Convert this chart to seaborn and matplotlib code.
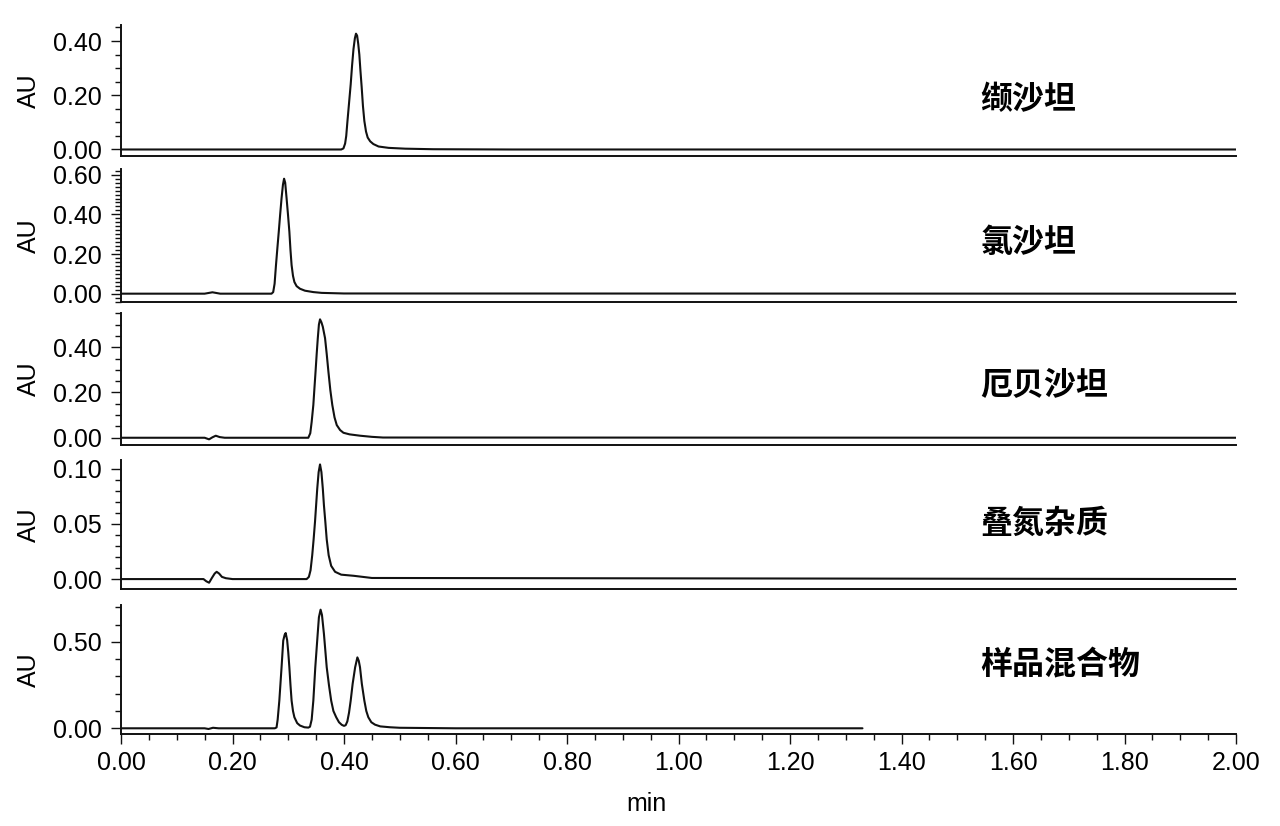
import matplotlib
matplotlib.use("Agg")
import matplotlib.pyplot as plt
from matplotlib.ticker import MultipleLocator, FormatStrFormatter
import seaborn as sns

# retention time (min) / absorbance (AU)
t_valsartan = [0.00, 0.395, 0.399, 0.402, 0.404, 0.406, 0.409, 0.412, 0.4145, 0.417, 0.4195,
               0.4215, 0.4235, 0.4255, 0.4275, 0.4295, 0.4317, 0.434, 0.4365, 0.4395, 0.4425,
               0.447, 0.4527, 0.462, 0.48, 0.51, 0.56, 0.70, 2.00]
a_valsartan = [0.000, 0.000, 0.004, 0.022, 0.05, 0.10, 0.17, 0.24, 0.31, 0.37, 0.41,
               0.427, 0.42, 0.39, 0.35, 0.29, 0.23, 0.16, 0.105, 0.066, 0.044,
               0.030, 0.020, 0.011, 0.006, 0.003, 0.001, 0.0, 0.0]

t_losartan = [0.00, 0.150, 0.158, 0.164, 0.170, 0.178, 0.270, 0.273, 0.2755, 0.278, 0.2805,
              0.283, 0.2855, 0.288, 0.2905, 0.2925, 0.2945, 0.297, 0.2995, 0.302, 0.304,
              0.306, 0.3085, 0.311, 0.315, 0.321, 0.33, 0.345, 0.36, 0.40, 2.00]
a_losartan = [0.000, 0.000, 0.004, 0.007, 0.004, 0.000, 0.000, 0.008, 0.05, 0.144, 0.23,
              0.313, 0.40, 0.482, 0.55, 0.58, 0.56, 0.482, 0.40, 0.313, 0.22,
              0.144, 0.09, 0.059, 0.038, 0.025, 0.015, 0.008, 0.004, 0.001, 0.0]

t_irbesartan = [0.00, 0.150, 0.158, 0.164, 0.170, 0.177, 0.186, 0.336, 0.3395, 0.342, 0.345,
                0.347, 0.349, 0.351, 0.353, 0.355, 0.357, 0.3595, 0.362, 0.366, 0.369,
                0.372, 0.3755, 0.379, 0.383, 0.387, 0.393, 0.399, 0.41, 0.429, 0.45, 0.47, 2.00]
a_irbesartan = [0.000, 0.000, -0.007, 0.002, 0.009, 0.003, 0.000, 0.000, 0.02, 0.07, 0.145,
                0.22, 0.293, 0.37, 0.44, 0.50, 0.523, 0.51, 0.49, 0.44, 0.37,
                0.293, 0.21, 0.145, 0.09, 0.056, 0.034, 0.022, 0.015, 0.009, 0.004, 0.001, 0.0]

t_azido = [0.00, 0.148, 0.153, 0.158, 0.163, 0.168, 0.1716, 0.176, 0.181, 0.188, 0.20,
           0.333, 0.337, 0.340, 0.343, 0.3455, 0.348, 0.350, 0.352, 0.3545, 0.357,
           0.3595, 0.362, 0.364, 0.3665, 0.369, 0.3725, 0.377, 0.384, 0.395, 0.417, 0.45, 2.00]
a_azido = [0.000, 0.000, -0.002, -0.0033, 0.001, 0.005, 0.0066, 0.005, 0.002, 0.0008, 0.000,
           0.000, 0.002, 0.008, 0.0216, 0.036, 0.052, 0.067, 0.082, 0.097, 0.104,
           0.097, 0.082, 0.067, 0.052, 0.036, 0.0216, 0.012, 0.0066, 0.004, 0.003, 0.001, 0.0]

t_mix = [0.00, 0.150, 0.157, 0.165, 0.175, 0.276, 0.279, 0.281, 0.284, 0.288, 0.291,
         0.2935, 0.2954, 0.298, 0.300, 0.302, 0.304, 0.306, 0.3085, 0.311, 0.316,
         0.321, 0.329, 0.336, 0.339, 0.342, 0.345, 0.3485, 0.3528, 0.355, 0.358,
         0.3605, 0.364, 0.3665, 0.369, 0.373, 0.377, 0.381, 0.386, 0.391, 0.396,
         0.400, 0.403, 0.406, 0.409, 0.412, 0.4155, 0.420, 0.424, 0.4265, 0.4287,
         0.432, 0.4365, 0.440, 0.4436, 0.449, 0.4556, 0.465, 0.4825, 0.50, 0.60, 1.33]
a_mix = [0.000, 0.000, -0.004, 0.003, 0.000, 0.000, 0.005, 0.05, 0.16, 0.353, 0.507,
         0.54, 0.551, 0.51, 0.44, 0.353, 0.25, 0.16, 0.10, 0.064, 0.03,
         0.016, 0.006, 0.004, 0.009, 0.05, 0.16, 0.353, 0.546, 0.642, 0.686,
         0.655, 0.546, 0.45, 0.353, 0.25, 0.16, 0.10, 0.064, 0.035, 0.02,
         0.014, 0.018, 0.04, 0.09, 0.16, 0.257, 0.353, 0.41, 0.39, 0.353,
         0.257, 0.16, 0.10, 0.064, 0.035, 0.021, 0.011, 0.006, 0.003, 0.0, 0.0]

names = ["缬沙坦", "氯沙坦", "厄贝沙坦", "叠氮杂质", "样品混合物"]
traces = [(t_valsartan, a_valsartan), (t_losartan, a_losartan), (t_irbesartan, a_irbesartan),
          (t_azido, a_azido), (t_mix, a_mix)]
y_limits = [(-0.024, 0.459), (-0.042, 0.629), (-0.032, 0.551), (-0.009, 0.108), (-0.033, 0.713)]
y_major = [0.2, 0.2, 0.2, 0.05, 0.5]
y_minor = [0.05, 0.02, 0.05, 0.01, 0.1]
label_y = [0.427, 0.444, 0.447, 0.504, 0.535]

sns.set_style("ticks")
plt.rcParams["font.family"] = ["Liberation Sans", "Noto Sans CJK SC", "DejaVu Sans"]
for key in ["text.color", "axes.labelcolor", "xtick.color", "ytick.color"]:
    plt.rcParams[key] = "black"

fig = plt.figure(figsize=(12.8, 8.26), dpi=100)
W, H = 1280, 826
left, right = 121, 1236
panel_px = [(25, 156), (169, 302), (313, 445), (460, 589), (605, 734)]

line_col = "#111111"
fs = 18
for i, (name, (t, a)) in enumerate(zip(names, traces)):
    top, bot = panel_px[i]
    ax = fig.add_axes([left / W, 1 - bot / H, (right - left) / W, (bot - top) / H])
    sns.lineplot(x=t, y=a, ax=ax, color=line_col, linewidth=1.5,
                 estimator=None, sort=False)
    ax.set_xlim(0, 2.0)
    ax.set_ylim(*y_limits[i])
    for s in ["top", "right"]:
        ax.spines[s].set_visible(False)
    for s in ["left", "bottom"]:
        ax.spines[s].set_linewidth(1.4)
        ax.spines[s].set_color(line_col)
    ax.yaxis.set_major_locator(MultipleLocator(y_major[i]))
    ax.yaxis.set_minor_locator(MultipleLocator(y_minor[i]))
    ax.yaxis.set_major_formatter(FormatStrFormatter("%.2f"))
    ax.tick_params(axis="y", which="major", length=7.5, width=1.0, pad=6,
                   labelsize=fs, color=line_col)
    ax.tick_params(axis="y", which="minor", length=4, width=1.0, color=line_col)
    ax.set_ylabel("AU", fontsize=fs)
    ax.yaxis.set_label_coords(-0.072, 0.5)
    if i < 4:
        ax.tick_params(axis="x", which="both", bottom=False, labelbottom=False)
        ax.set_xlabel("")
    else:
        ax.xaxis.set_major_locator(MultipleLocator(0.2))
        ax.xaxis.set_minor_locator(MultipleLocator(0.05))
        ax.xaxis.set_major_formatter(FormatStrFormatter("%.2f"))
        ax.tick_params(axis="x", which="major", length=7.5, width=1.0, pad=5,
                       labelsize=fs, color=line_col)
        ax.tick_params(axis="x", which="minor", length=4.5, width=1.0, color=line_col)
        ax.set_xlabel("min", fontsize=fs)
        ax.xaxis.set_label_coords(0.471, -0.45)
    ax.text(0.771, label_y[i], name, transform=ax.transAxes, ha="left", va="center",
            fontsize=23, fontweight="bold", family=["Noto Sans CJK SC", "DejaVu Sans"])

fig.savefig("out.png", dpi=100)
